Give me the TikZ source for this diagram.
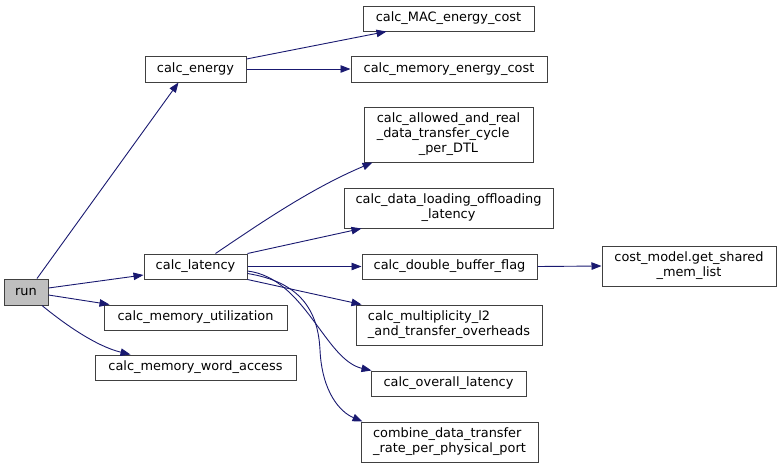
\documentclass[tikz,border=0pt]{standalone}
\usepackage{fontspec}
\setmainfont{DejaVu Sans}
\usetikzlibrary{arrows.meta}
\definecolor{edge}{HTML}{191970}
\definecolor{frame}{HTML}{404040}
\newcommand\mlines[2]{\begin{tabular}{@{}l@{}}#1\\\multicolumn{1}{@{}c@{}}{#2}\end{tabular}}
\begin{document}
\begin{tikzpicture}[x=1pt,y=-1pt,
  fn/.style={draw=frame,line width=1pt,fill=white,inner sep=0pt,minimum height=26pt,
    font=\fontsize{12.9}{15}\selectfont},
  call/.style={draw=edge,line width=0.9pt,-{Triangle[length=10pt,width=7.5pt]}}]
\useasboundingbox (0,0) rectangle (781,469);
\node[fn,fill=black!25,minimum width=44pt] (run) at (26,292) {run};
\node[fn,minimum width=101pt] (en) at (195.5,69) {calc\_energy};
\node[fn,minimum width=103pt,minimum height=25pt] (lat) at (195.5,266.5) {calc\_latency};
\node[fn,minimum width=183pt,minimum height=25pt] (util) at (195.5,317.5) {calc\_memory\_utilization};
\node[fn,minimum width=201pt,minimum height=25pt] (word) at (195.5,367.5) {calc\_memory\_word\_access};
\node[fn,minimum width=171pt,minimum height=25pt] (mac) at (448.5,18.5) {calc\_MAC\_energy\_cost};
\node[fn,minimum width=196pt] (meme) at (449,69) {calc\_memory\_energy\_cost};
\node[fn,minimum width=169pt,minimum height=55pt] (allow) at (448.5,134.5)
  {\mlines{calc\_allowed\_and\_real\\\_data\_transfer\_cycle}{\_per\_DTL}};
\node[fn,minimum width=209pt,minimum height=40pt] (load) at (448.5,208)
  {\mlines{calc\_data\_loading\_offloading}{\_latency}};
\node[fn,minimum width=175pt,minimum height=25pt] (dbf) at (449.5,266.5) {calc\_double\_buffer\_flag};
\node[fn,minimum width=174pt,minimum height=40pt] (cost) at (689,266)
  {\mlines{cost\_model.get\_shared}{\_mem\_list}};
\node[fn,minimum width=186pt,minimum height=40pt] (mult) at (449,325)
  {\mlines{calc\_multiplicity\_l2}{\_and\_transfer\_overheads}};
\node[fn,minimum width=155pt,minimum height=25pt] (ovl) at (448.5,383.5) {calc\_overall\_latency};
\node[fn,minimum width=177pt,minimum height=40pt] (comb) at (449.5,442)
  {\mlines{combine\_data\_transfer}{\_rate\_per\_physical\_port}};
% edges
\draw[call] ([xshift=11pt]run.north) -- ([xshift=-17pt]en.south);
\draw[call] ([yshift=4pt]run.east) -- ([yshift=-8.5pt]lat.west);
\draw[call] ([yshift=-3pt]run.east) -- ([xshift=6pt]util.north west);
\draw[call] ([xshift=16pt]run.south) .. controls (62,322) and (95,346) .. ([xshift=-65pt]word.north);
\draw[call] ([yshift=10pt]en.east) -- ([xshift=24pt]mac.south west);
\draw[call] (en.east) -- (meme.west);
\draw[call] ([xshift=20pt]lat.north) .. controls (262,222) and (312,188) .. ([xshift=9pt]allow.south west);
\draw[call] (lat.north east) -- ([xshift=18pt]load.south west);
\draw[call] (lat.east) -- (dbf.west);
\draw[call] (lat.south east) -- ([xshift=6pt]mult.north west);
\draw[call] ([yshift=-4.5pt]lat.east) .. controls (305,278) and (325,360) .. ([xshift=1pt]ovl.north west);
\draw[call] ([yshift=-7pt]lat.east) .. controls (300,282) and (318,310) .. (320,350)
  .. controls (322,392) and (340,412) .. ([xshift=2pt]comb.north west);
\draw[call] (dbf.east) -- (cost.west);
\end{tikzpicture}
\end{document}
